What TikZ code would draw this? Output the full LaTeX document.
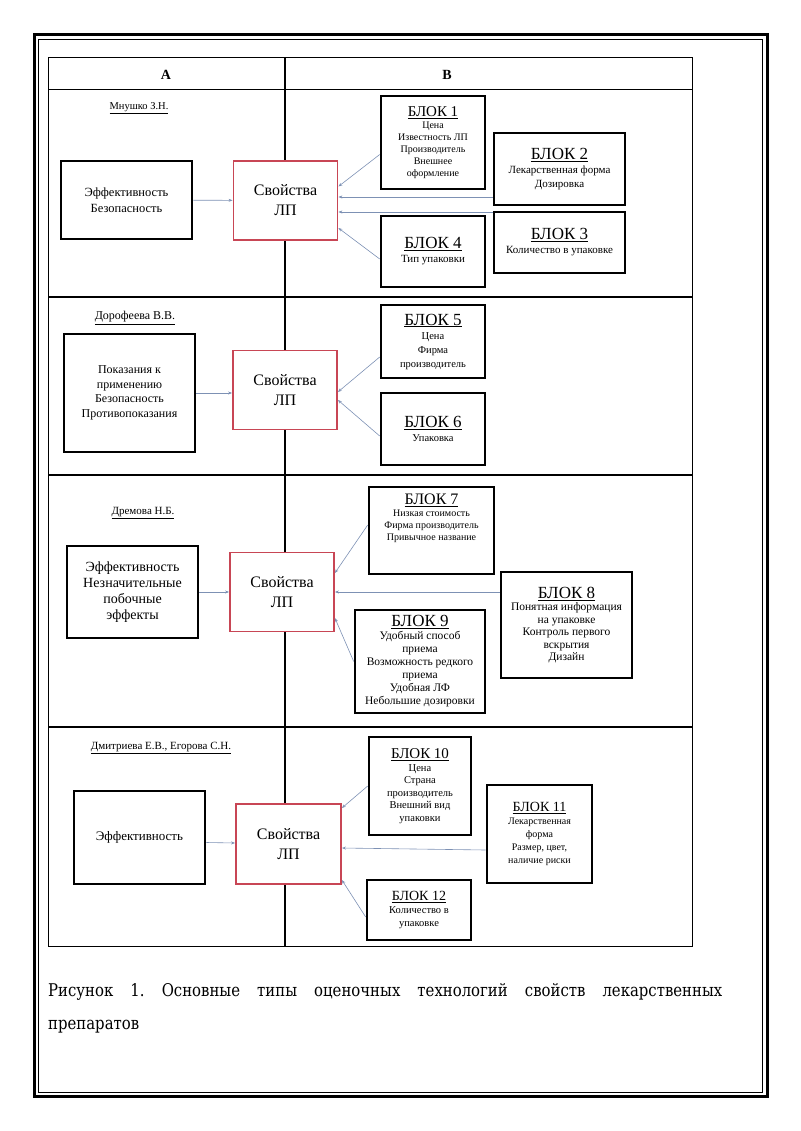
\documentclass[tikz,border=0pt]{standalone}
\usepackage{fontspec}
\setmainfont{Liberation Serif}
\newfontfamily\capfont[FakeStretch=0.85]{DejaVu Serif}
\usepackage{tikz}
\usetikzlibrary{arrows.meta}

\definecolor{lpred}{RGB}{200,70,85}
\definecolor{linkgray}{RGB}{125,145,180}

\newcommand{\blk}[2]{{\fontsize{#1}{#1}\selectfont\underline{БЛОК #2}}}
\newcommand{\fs}[2]{\fontsize{#1}{#2}\selectfont}

\tikzset{
	blok/.style={draw, fill=white, line width=2.6pt, align=center, inner sep=2pt},
	lp/.style={draw=lpred, fill=white, line width=1.8pt, align=center,
		minimum width=104pt, minimum height=79pt, font=\fs{16}{20}},
	avtor/.style={inner sep=0pt},
	link/.style={-{Stealth[length=4pt,width=3pt]}, draw=linkgray, line width=0.6pt}
}

\begin{document}
\begin{tikzpicture}[x=1pt,y=-1pt]
\useasboundingbox (0,0) rectangle (800,1131);
% frame
\draw[line width=3pt] (34,35) rectangle (767,1096);
\draw[line width=0.7pt] (38.5,39.5) rectangle (762,1092);
% table
\draw[line width=1pt] (48,58) rectangle (692,946);
\draw[line width=1pt] (48,90) -- (692,90);
\draw[line width=1.6pt] (285,58) -- (285,946);
\foreach \y in {297,475,727}
	\draw[line width=1.6pt] (48,\y) -- (692,\y);
\node[font=\bfseries\fs{14}{16}] (colA) at (166,75) {А};
\node[font=\bfseries\fs{14}{16}] (colB) at (447,75) {В};

% Mnushko
\node[avtor, font=\fs{10.5}{12}] (av1) at (139,108) {\underline{Мнушко З.Н.}};
\node[blok, minimum width=131pt, minimum height=78pt, font=\fs{12.5}{16}] (a1) at (126.5,200) {Эффективность\\Безопасность};
\node[lp] (lp1) at (285.5,200.5) {Свойства\\ЛП};
\node[blok, minimum width=104pt, minimum height=93pt, font=\fs{10}{12}] (b1) at (433,142.5)
	{\blk{15}{1}\\Цена\\Известность ЛП\\Производитель\\Внешнее\\оформление};
\node[blok, minimum width=131pt, minimum height=72pt, font=\fs{11}{14}] (b2) at (559.5,169)
	{\blk{17}{2}\\Лекарственная форма\\Дозировка};
\node[blok, minimum width=131pt, minimum height=61pt, font=\fs{11}{14}] (b3) at (559.5,242.5)
	{\blk{17}{3}\\Количество в упаковке};
\node[blok, minimum width=104pt, minimum height=71pt, font=\fs{11}{14}] (b4) at (433,251.5)
	{\blk{17}{4}\\Тип упаковки};
\draw[link] (a1) -- (lp1);
\draw[link] ([yshift=-12pt]b1.west) -- ([yshift=14pt]lp1.east);
\draw[link] ([yshift=-28pt]b2.west) -- ([yshift=3.5pt]lp1.east);
\draw[link] ([yshift=30.5pt]b3.west) -- ([yshift=-11.5pt]lp1.east);
\draw[link] ([yshift=-7.5pt]b4.west) -- ([yshift=-27.5pt]lp1.east);

% Dorofeeva
\node[avtor, font=\fs{12}{14}] (av2) at (135,318) {\underline{Дорофеева В.В.}};
\node[blok, minimum width=131pt, minimum height=118pt, font=\fs{12}{14.5}] (a2) at (129.5,393)
	{Показания к\\применению\\Безопасность\\Противопоказания};
\node[lp] (lp2) at (285,390) {Свойства\\ЛП};
\node[blok, minimum width=104pt, minimum height=73pt, font=\fs{10.5}{14}] (b5) at (433,341.5)
	{\blk{17}{5}\\Цена\\Фирма\\производитель};
\node[blok, minimum width=104pt, minimum height=72pt, font=\fs{10.5}{14}] (b6) at (433,429)
	{\blk{17}{6}\\Упаковка};
\draw[link] (a2.east) -- ([yshift=-3pt]lp2.west);
\draw[link] ([yshift=-15.5pt]b5.west) -- ([yshift=-2pt]lp2.east);
\draw[link] ([yshift=-7pt]b6.west) -- ([yshift=-10pt]lp2.east);

% Dremova
\node[avtor, font=\fs{11}{13}] (av3) at (143,513) {\underline{Дремова Н.Б.}};
\node[blok, minimum width=131pt, minimum height=92pt, font=\fs{14}{16}] (a3) at (132.5,592)
	{Эффективность\\Незначительные\\побочные\\эффекты};
\node[lp] (lp3) at (282,592) {Свойства\\ЛП};
\node[blok, minimum width=125pt, minimum height=87pt, font=\fs{10}{12}] (b7) at (431.5,530.5)
	{\blk{16}{7}\\Низкая стоимость\\Фирма производитель\\Привычное название\\[14pt]};
\node[blok, minimum width=131pt, minimum height=106pt, font=\fs{11.5}{12.5}] (b8) at (566.5,625)
	{\blk{17}{8}\\Понятная информация\\на упаковке\\Контроль первого\\вскрытия\\Дизайн};
\node[blok, minimum width=130pt, minimum height=103pt, font=\fs{11.5}{13}] (b9) at (420,661.5)
	{\blk{17}{9}\\Удобный способ\\приема\\Возможность редкого\\приема\\Удобная ЛФ\\Небольшие дозировки};
\draw[link] (a3) -- (lp3);
\draw[link] ([yshift=5.5pt]b7.west) -- ([yshift=19pt]lp3.east);
\draw[link] ([yshift=33pt]b8.west) -- (lp3.east);
\draw[link] (b9.west) -- ([yshift=-26pt]lp3.east);

% Dmitrieva, Egorova
\node[avtor, font=\fs{11}{13}] (av4) at (161,748) {\underline{Дмитриева Е.В., Егорова С.Н.}};
\node[blok, minimum width=131pt, minimum height=93pt, font=\fs{13}{16}] (a4) at (139.5,837.5) {Эффективность};
\node[lp, minimum width=105pt, minimum height=80pt] (lp4) at (288.5,844) {Свойства\\ЛП};
\node[blok, minimum width=102pt, minimum height=98pt, font=\fs{10.5}{12.5}] (b10) at (420,786)
	{\blk{15}{10}\\Цена\\Страна\\производитель\\Внешний вид\\упаковки};
\node[blok, minimum width=105pt, minimum height=98pt, font=\fs{10}{13}] (b11) at (539.5,834)
	{\blk{14}{11}\\Лекарственная\\форма\\Размер, цвет,\\наличие риски};
\node[blok, minimum width=104pt, minimum height=60pt, font=\fs{10.5}{13}] (b12) at (419,910)
	{\blk{14}{12}\\Количество в\\упаковке};
\draw[link] ([yshift=-5pt]a4.east) -- ([yshift=1pt]lp4.west);
\draw[link] (b10.west) -- ([yshift=36pt]lp4.east);
\draw[link] ([yshift=-16pt]b11.west) -- ([yshift=-4pt]lp4.east);
\draw[link] ([yshift=-7pt]b12.west) -- ([yshift=-36pt]lp4.east);

% caption
\node[anchor=base west, inner sep=0pt, font=\capfont\fs{17.5}{20}\frenchspacing] (cap1) at (48,996)
	{\makebox[674pt][s]{Рисунок 1. Основные типы оценочных технологий свойств лекарственных}};
\node[anchor=base west, inner sep=0pt, font=\capfont\fs{17.5}{20}] (cap2) at (48,1029) {препаратов};
\end{tikzpicture}
\end{document}
